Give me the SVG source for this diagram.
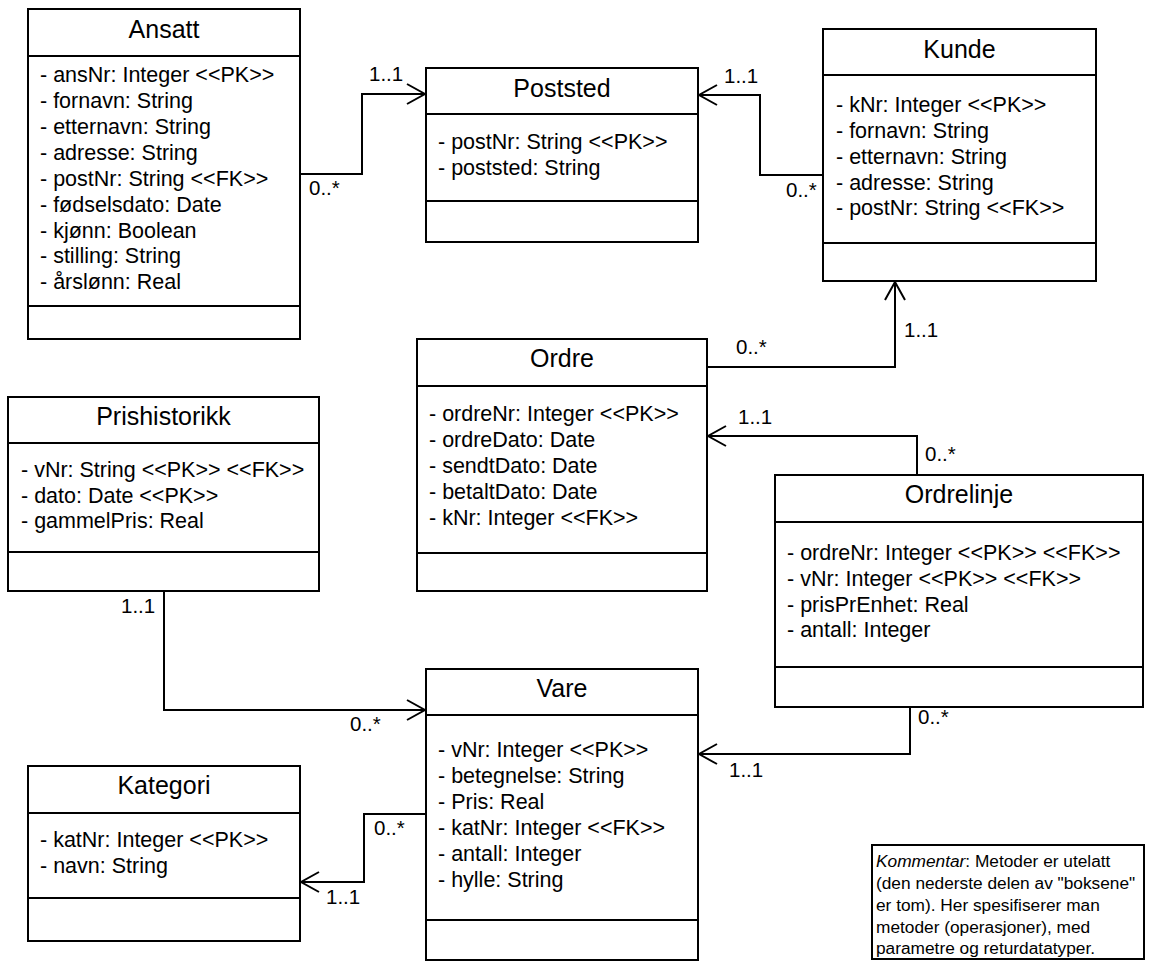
<svg xmlns="http://www.w3.org/2000/svg" width="1156" height="971" viewBox="0 0 1156 971">
<style>
.box{fill:#fff;stroke:#000;stroke-width:2}
.div{stroke:#000;stroke-width:2}
.t{font-family:"Liberation Sans",Arial,sans-serif;font-size:25px;text-anchor:middle;fill:#000}
.a{font-family:"Liberation Sans",Arial,sans-serif;font-size:21.5px;fill:#000}
.l{font-family:"Liberation Sans",Arial,sans-serif;font-size:20.5px;fill:#000}
.c{font-family:"Liberation Sans",Arial,sans-serif;font-size:17.3px;fill:#000}
.e{fill:none;stroke:#000;stroke-width:2}
</style>
<defs>
<marker id="open" markerUnits="userSpaceOnUse" viewBox="-20 -12 22 24" markerWidth="22" markerHeight="24" refX="0" refY="0" orient="auto">
<path d="M-18,-10 L0,0 L-18,10" fill="none" stroke="#000" stroke-width="2"/>
</marker>
</defs>
<rect width="1156" height="971" fill="#fff"/>

<g id="connectors">
<path class="e" d="M300,174 H362 V94 H425" marker-end="url(#open)"/>
<path class="e" d="M823,175 H760 V95 H699" marker-end="url(#open)"/>
<path class="e" d="M707,367 H895 V282" marker-end="url(#open)"/>
<path class="e" d="M917,475 V436 H708" marker-end="url(#open)"/>
<path class="e" d="M910,707 V754 H699" marker-end="url(#open)"/>
<path class="e" d="M164,591 V710 H425" marker-end="url(#open)"/>
<path class="e" d="M426,814 H364 V882 H301" marker-end="url(#open)"/>
<text class="l" x="309" y="195">0..*</text>
<text class="l" x="369" y="81">1..1</text>
<text class="l" x="724" y="83">1..1</text>
<text class="l" x="786" y="197">0..*</text>
<text class="l" x="736" y="354">0..*</text>
<text class="l" x="904" y="337">1..1</text>
<text class="l" x="738" y="424">1..1</text>
<text class="l" x="925" y="461">0..*</text>
<text class="l" x="918" y="724">0..*</text>
<text class="l" x="729" y="777">1..1</text>
<text class="l" x="121" y="613">1..1</text>
<text class="l" x="350" y="731">0..*</text>
<text class="l" x="374" y="835">0..*</text>
<text class="l" x="326" y="904">1..1</text>
</g>

<g id="ansatt">
<rect class="box" x="28" y="9" width="272" height="330"/>
<line class="div" x1="28" y1="56" x2="300" y2="56"/>
<line class="div" x1="28" y1="306" x2="300" y2="306"/>
<text class="t" x="164" y="38">Ansatt</text>
<text class="a" x="40" y="82">- ansNr: Integer &lt;&lt;PK&gt;&gt;</text>
<text class="a" x="40" y="108">- fornavn: String</text>
<text class="a" x="40" y="134">- etternavn: String</text>
<text class="a" x="40" y="160">- adresse: String</text>
<text class="a" x="40" y="186">- postNr: String &lt;&lt;FK&gt;&gt;</text>
<text class="a" x="40" y="212">- fødselsdato: Date</text>
<text class="a" x="40" y="238">- kjønn: Boolean</text>
<text class="a" x="40" y="263">- stilling: String</text>
<text class="a" x="40" y="289">- årslønn: Real</text>
</g>

<g id="poststed">
<rect class="box" x="426" y="68" width="272" height="174"/>
<line class="div" x1="426" y1="114" x2="698" y2="114"/>
<line class="div" x1="426" y1="201" x2="698" y2="201"/>
<text class="t" x="562" y="97">Poststed</text>
<text class="a" x="438" y="149">- postNr: String &lt;&lt;PK&gt;&gt;</text>
<text class="a" x="438" y="175">- poststed: String</text>
</g>

<g id="kunde">
<rect class="box" x="823" y="29" width="273" height="252"/>
<line class="div" x1="823" y1="75" x2="1096" y2="75"/>
<line class="div" x1="823" y1="243" x2="1096" y2="243"/>
<text class="t" x="959.5" y="58">Kunde</text>
<text class="a" x="836" y="112">- kNr: Integer &lt;&lt;PK&gt;&gt;</text>
<text class="a" x="836" y="138">- fornavn: String</text>
<text class="a" x="836" y="164">- etternavn: String</text>
<text class="a" x="836" y="190">- adresse: String</text>
<text class="a" x="836" y="215">- postNr: String &lt;&lt;FK&gt;&gt;</text>
</g>

<g id="ordre">
<rect class="box" x="417" y="339" width="290" height="252"/>
<line class="div" x1="417" y1="386" x2="707" y2="386"/>
<line class="div" x1="417" y1="553" x2="707" y2="553"/>
<text class="t" x="562" y="367">Ordre</text>
<text class="a" x="429" y="421">- ordreNr: Integer &lt;&lt;PK&gt;&gt;</text>
<text class="a" x="429" y="447">- ordreDato: Date</text>
<text class="a" x="429" y="473">- sendtDato: Date</text>
<text class="a" x="429" y="499">- betaltDato: Date</text>
<text class="a" x="429" y="525">- kNr: Integer &lt;&lt;FK&gt;&gt;</text>
</g>

<g id="prishistorikk">
<rect class="box" x="8" y="397" width="311" height="194"/>
<line class="div" x1="8" y1="443" x2="319" y2="443"/>
<line class="div" x1="8" y1="552" x2="319" y2="552"/>
<text class="t" x="163.5" y="425">Prishistorikk</text>
<text class="a" x="21" y="477">- vNr: String &lt;&lt;PK&gt;&gt; &lt;&lt;FK&gt;&gt;</text>
<text class="a" x="21" y="503">- dato: Date &lt;&lt;PK&gt;&gt;</text>
<text class="a" x="21" y="528">- gammelPris: Real</text>
</g>

<g id="ordrelinje">
<rect class="box" x="775" y="475" width="368" height="232"/>
<line class="div" x1="775" y1="522" x2="1143" y2="522"/>
<line class="div" x1="775" y1="667" x2="1143" y2="667"/>
<text class="t" x="959" y="503">Ordrelinje</text>
<text class="a" x="787" y="560">- ordreNr: Integer &lt;&lt;PK&gt;&gt; &lt;&lt;FK&gt;&gt;</text>
<text class="a" x="787" y="586">- vNr: Integer &lt;&lt;PK&gt;&gt; &lt;&lt;FK&gt;&gt;</text>
<text class="a" x="787" y="612">- prisPrEnhet: Real</text>
<text class="a" x="787" y="637">- antall: Integer</text>
</g>

<g id="vare">
<rect class="box" x="426" y="669" width="272" height="291"/>
<line class="div" x1="426" y1="715" x2="698" y2="715"/>
<line class="div" x1="426" y1="920" x2="698" y2="920"/>
<text class="t" x="562" y="697">Vare</text>
<text class="a" x="438" y="757">- vNr: Integer &lt;&lt;PK&gt;&gt;</text>
<text class="a" x="438" y="783">- betegnelse: String</text>
<text class="a" x="438" y="809">- Pris: Real</text>
<text class="a" x="438" y="835">- katNr: Integer &lt;&lt;FK&gt;&gt;</text>
<text class="a" x="438" y="861">- antall: Integer</text>
<text class="a" x="438" y="887">- hylle: String</text>
</g>

<g id="kategori">
<rect class="box" x="28" y="766" width="272" height="175"/>
<line class="div" x1="28" y1="813" x2="300" y2="813"/>
<line class="div" x1="28" y1="898" x2="300" y2="898"/>
<text class="t" x="164" y="794">Kategori</text>
<text class="a" x="40" y="847">- katNr: Integer &lt;&lt;PK&gt;&gt;</text>
<text class="a" x="40" y="873">- navn: String</text>
</g>

<g id="kommentar">
<rect class="box" x="872" y="845" width="272" height="114"/>
<text class="c" x="876" y="867"><tspan font-style="italic">Kommentar</tspan>: Metoder er utelatt</text>
<text class="c" x="876" y="889">(den nederste delen av "boksene"</text>
<text class="c" x="876" y="911">er tom). Her spesifiserer man</text>
<text class="c" x="876" y="933">metoder (operasjoner), med</text>
<text class="c" x="876" y="954">parametre og returdatatyper.</text>
</g>
</svg>
